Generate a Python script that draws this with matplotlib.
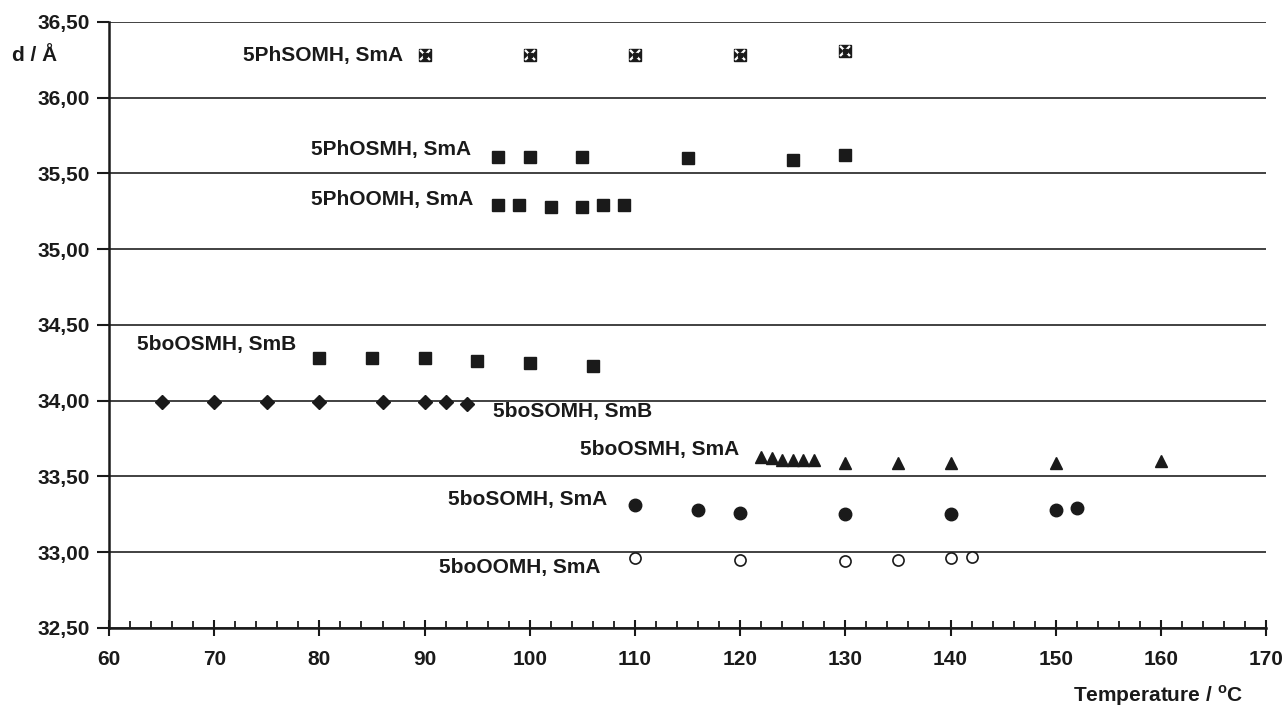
import matplotlib
matplotlib.use("Agg")
import matplotlib.pyplot as plt
from matplotlib.ticker import FuncFormatter, MultipleLocator

plt.rcParams['font.family'] = ['Liberation Sans', 'DejaVu Sans']
plt.rcParams['font.weight'] = 'bold'

# layer spacings d (Angstrom) against temperature (deg C)
t_phsomh = [90, 100, 110, 120, 130]
d_phsomh = [36.28, 36.28, 36.28, 36.28, 36.31]

t_phosmh = [97, 100, 105, 115, 125, 130]
d_phosmh = [35.61, 35.61, 35.61, 35.60, 35.59, 35.62]

t_phoomh = [97, 99, 102, 105, 107, 109]
d_phoomh = [35.29, 35.29, 35.28, 35.28, 35.29, 35.29]

t_boosmh_smb = [80, 85, 90, 95, 100, 106]
d_boosmh_smb = [34.28, 34.28, 34.28, 34.26, 34.25, 34.23]

t_bosomh_smb = [65, 70, 75, 80, 86, 90, 92, 94]
d_bosomh_smb = [33.99, 33.99, 33.99, 33.99, 33.99, 33.99, 33.99, 33.98]

t_boosmh_sma = [122, 123, 124, 125, 126, 127, 130, 135, 140, 150, 160]
d_boosmh_sma = [33.63, 33.62, 33.61, 33.61, 33.61, 33.61, 33.59, 33.59, 33.59, 33.59, 33.60]

t_bosomh_sma = [110, 116, 120, 130, 140, 150, 152]
d_bosomh_sma = [33.31, 33.28, 33.26, 33.25, 33.25, 33.28, 33.29]

t_booomh = [110, 120, 130, 135, 140, 142]
d_booomh = [32.96, 32.95, 32.94, 32.95, 32.96, 32.97]

fig = plt.figure(figsize=(12.86, 7.08), dpi=100)
ax = fig.add_axes([0.0848, 0.113, 0.8997, 0.856])

ink = '#1a1a1a'

ax.plot(t_phsomh, d_phsomh, 's', ms=9, mfc=ink, mec=ink, ls='none')
ax.plot(t_phsomh, d_phsomh, 'x', ms=7, mec='white', mew=1.6, ls='none')
ax.plot(t_phsomh, d_phsomh, 's', ms=2.5, mfc=ink, mec=ink, ls='none')
ax.plot(t_phosmh, d_phosmh, 's', ms=9, color=ink, ls='none')
ax.plot(t_phoomh, d_phoomh, 's', ms=9, color=ink, ls='none')
ax.plot(t_boosmh_smb, d_boosmh_smb, 's', ms=9, color=ink, ls='none')
ax.plot(t_bosomh_smb, d_bosomh_smb, 'D', ms=7, color=ink, ls='none')
ax.plot(t_boosmh_sma, d_boosmh_sma, '^', ms=9, color=ink, ls='none')
ax.plot(t_bosomh_sma, d_bosomh_sma, 'o', ms=9, color=ink, ls='none')
ax.plot(t_booomh, d_booomh, 'o', ms=8, mfc='white', mec=ink, mew=1.2, ls='none')

fs = 15
ax.text(88, 36.28, '5PhSOMH, SmA', ha='right', va='center', fontsize=fs, color=ink)
ax.text(79.2, 35.655, '5PhOSMH, SmA', ha='left', va='center', fontsize=fs, color=ink)
ax.text(79.2, 35.33, '5PhOOMH, SmA', ha='left', va='center', fontsize=fs, color=ink)
ax.text(62.7, 34.368, '5boOSMH, SmB', ha='left', va='center', fontsize=fs, color=ink)
ax.text(96.5, 33.926, '5boSOMH, SmB', ha='left', va='center', fontsize=fs, color=ink)
ax.text(104.8, 33.675, '5boOSMH, SmA', ha='left', va='center', fontsize=fs, color=ink)
ax.text(92.2, 33.345, '5boSOMH, SmA', ha='left', va='center', fontsize=fs, color=ink)
ax.text(91.4, 32.90, '5boOOMH, SmA', ha='left', va='center', fontsize=fs, color=ink)

ax.set_xlim(60, 170)
ax.set_ylim(32.5, 36.5)
ax.xaxis.set_major_locator(MultipleLocator(10))
ax.xaxis.set_minor_locator(MultipleLocator(2))
ax.yaxis.set_major_locator(MultipleLocator(0.5))
ax.yaxis.set_major_formatter(FuncFormatter(lambda v, p: f'{v:.2f}'.replace('.', ',')))

ax.grid(axis='y', color='#333333', lw=1.3)
ax.set_axisbelow(True)
for s in ['top', 'right']:
    ax.spines[s].set_visible(False)
for s in ['left', 'bottom']:
    ax.spines[s].set_color(ink)
    ax.spines[s].set_linewidth(1.8)

ax.tick_params(axis='x', which='major', direction='inout', length=12, width=1.5,
               colors=ink, labelsize=fs, pad=10)
ax.tick_params(axis='x', which='minor', direction='in', length=5, width=1.3, colors=ink)
ax.tick_params(axis='y', which='major', direction='out', length=9, width=1.5,
               colors=ink, labelsize=fs, pad=5)

fig.text(0.0095, 0.922, 'd / Å', ha='left', va='center', fontsize=fs, color=ink)
fig.text(0.967, 0.018, 'Temperature / $^{\\mathregular{o}}$C', ha='right', va='center',
         fontsize=fs, color=ink)

fig.savefig('out.png', dpi=100)
